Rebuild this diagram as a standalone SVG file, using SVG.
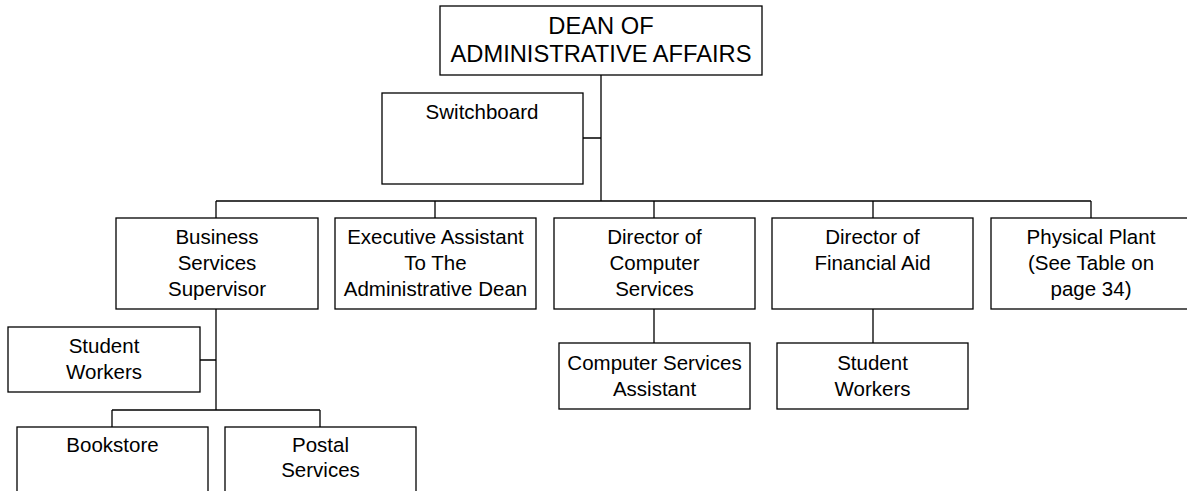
<svg xmlns="http://www.w3.org/2000/svg" width="1187" height="491" viewBox="0 0 1187 491">
<style>
.b{fill:#fff;stroke:#000;stroke-width:1.3}
.c{fill:none;stroke:#000;stroke-width:1.3}
text{font-family:"Liberation Sans",Arial,sans-serif;font-size:20.5px;fill:#000;text-anchor:middle}
.big{font-size:23.7px}
</style>
<rect width="1187" height="491" fill="#fff"/>
<g id="connectors">
<path class="c" d="M601 75V201M583 138H601M216 201H1091M216 201V218M435 201V218M654 201V218M873 201V218M1091 201V218"/>
<path class="c" d="M216 309V410M200 360H216M112 410H320M112 410V427M320 410V427"/>
<path class="c" d="M654 309V343M873 309V343"/>
</g>
<g id="dean"><rect class="b" x="440" y="6" width="322" height="69"/><text class="big" x="601" y="34">DEAN OF</text><text class="big" x="601" y="62">ADMINISTRATIVE AFFAIRS</text></g>
<g id="switchboard"><rect class="b" x="382" y="93" width="201" height="91"/><text x="482" y="119">Switchboard</text></g>
<g id="business"><rect class="b" x="116" y="218" width="202" height="91"/><text x="217" y="244">Business</text><text x="217" y="270">Services</text><text x="217" y="296">Supervisor</text></g>
<g id="exec"><rect class="b" x="335" y="218" width="201" height="91"/><text x="435.5" y="244">Executive Assistant</text><text x="435.5" y="270">To The</text><text x="435.5" y="296">Administrative Dean</text></g>
<g id="computer"><rect class="b" x="554" y="218" width="201" height="91"/><text x="654.5" y="244">Director of</text><text x="654.5" y="270">Computer</text><text x="654.5" y="296">Services</text></g>
<g id="finaid"><rect class="b" x="772" y="218" width="201" height="91"/><text x="872.5" y="244">Director of</text><text x="872.5" y="270">Financial Aid</text></g>
<g id="plant"><rect class="b" x="991" y="218" width="201" height="91"/><text x="1091" y="244">Physical Plant</text><text x="1091" y="270">(See Table on</text><text x="1091" y="296">page 34)</text></g>
<g id="studentLeft"><rect class="b" x="8" y="327" width="192" height="65"/><text x="104" y="353">Student</text><text x="104" y="379">Workers</text></g>
<g id="bookstore"><rect class="b" x="17" y="427" width="191" height="70"/><text x="112.5" y="452">Bookstore</text></g>
<g id="postal"><rect class="b" x="225" y="427" width="191" height="70"/><text x="320.5" y="452">Postal</text><text x="320.5" y="477">Services</text></g>
<g id="compAssistant"><rect class="b" x="559" y="343" width="191" height="66"/><text x="654.5" y="370">Computer Services</text><text x="654.5" y="396">Assistant</text></g>
<g id="studentRight"><rect class="b" x="777" y="343" width="191" height="66"/><text x="872.5" y="370">Student</text><text x="872.5" y="396">Workers</text></g>
</svg>
